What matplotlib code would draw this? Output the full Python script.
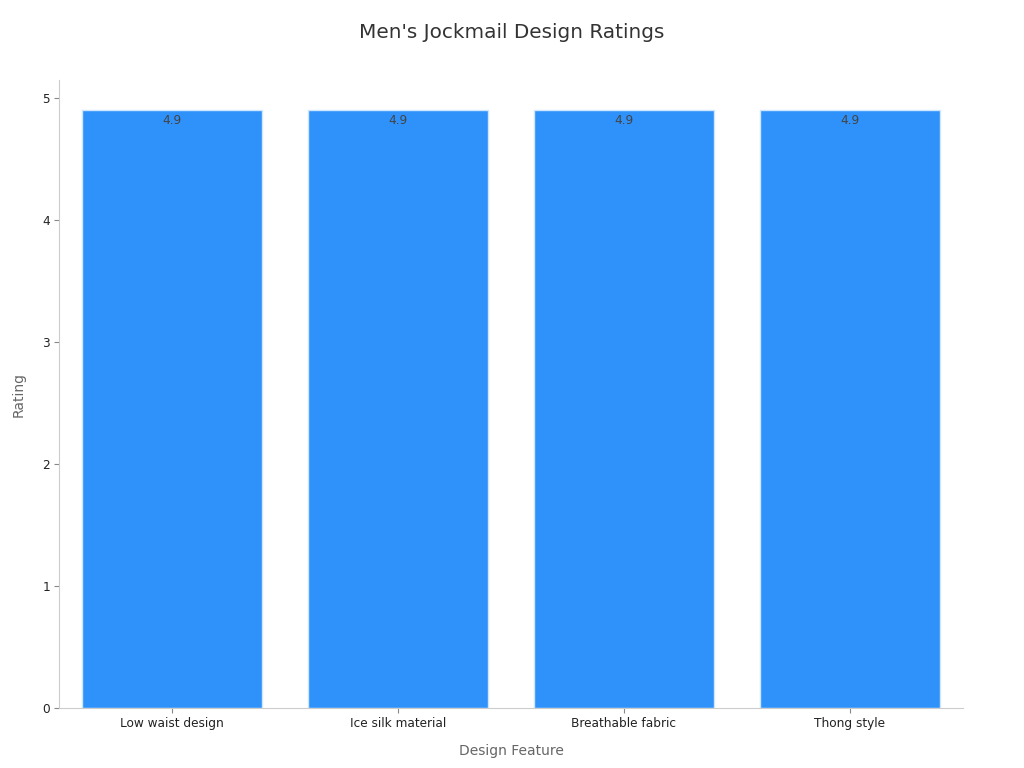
import matplotlib.pyplot as plt

# data
features = ['Low waist design', 'Ice silk material', 'Breathable fabric', 'Thong style']
ratings = [4.9, 4.9, 4.9, 4.9]

fig = plt.figure(figsize=(10.24, 7.68), dpi=100)
ax = fig.add_axes([0.0576, 0.078, 0.8828, 0.8178])

x = range(len(features))
bars = ax.bar(x, ratings, width=0.8, color='#2f92fa', edgecolor='#cfe6ff', linewidth=1)

for b, v in zip(bars, ratings):
    ax.annotate(f'{v}', (b.get_x() + b.get_width() / 2, v), xytext=(0, -3),
                textcoords='offset points', ha='center', va='top',
                fontsize=8.7, color='#444444')

ax.set_xlim(-0.5, len(features) - 0.5)
ax.set_ylim(0, max(ratings) * 1.05)
ax.set_xticks(list(x))
ax.set_xticklabels(features)
ax.set_yticks([0, 1, 2, 3, 4, 5])
ax.tick_params(axis='both', labelsize=8.7, colors='#222222', length=3.5, pad=3)
ax.tick_params(axis='both', color='#888888')

for s in ['top', 'right']:
    ax.spines[s].set_visible(False)
for s in ['left', 'bottom']:
    ax.spines[s].set_color('#cccccc')

ax.set_xlabel('Design Feature', fontsize=10, color='#666666', labelpad=10)
ax.set_ylabel('Rating', fontsize=10, color='#666666', labelpad=12)
fig.suptitle("Men's Jockmail Design Ratings", fontsize=14.4, color='#333333', y=0.97)

fig.savefig('out.png', dpi=100)
